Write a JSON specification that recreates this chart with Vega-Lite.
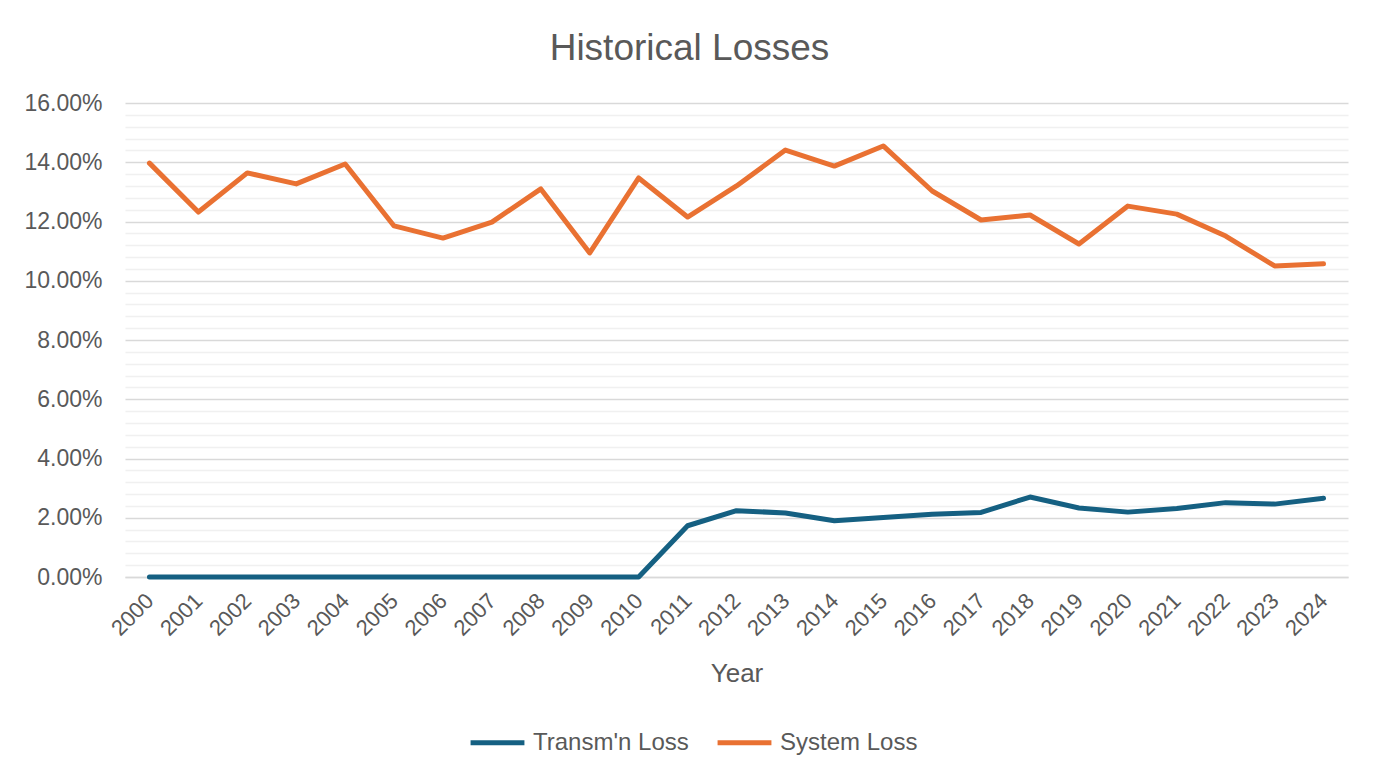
{
  "$schema": "https://vega.github.io/schema/vega-lite/v6.json",
  "width": 1223,
  "height": 474,
  "autosize": {"type": "none"},
  "padding": {"left": 125, "top": 103, "right": 30, "bottom": 199},
  "background": "white",
  "title": {
    "text": "Historical Losses",
    "fontSize": 37,
    "font": "Liberation Sans",
    "fontWeight": "normal",
    "color": "#595959",
    "anchor": "middle",
    "dx": -47,
    "offset": 24
  },
  "config": {
    "view": {"stroke": null},
    "font": "Liberation Sans"
  },
  "data": {
    "values": [
      {"Year": "2000", "Series": "Transm'n Loss", "Loss": 0.0},
      {"Year": "2001", "Series": "Transm'n Loss", "Loss": 0.0},
      {"Year": "2002", "Series": "Transm'n Loss", "Loss": 0.0},
      {"Year": "2003", "Series": "Transm'n Loss", "Loss": 0.0},
      {"Year": "2004", "Series": "Transm'n Loss", "Loss": 0.0},
      {"Year": "2005", "Series": "Transm'n Loss", "Loss": 0.0},
      {"Year": "2006", "Series": "Transm'n Loss", "Loss": 0.0},
      {"Year": "2007", "Series": "Transm'n Loss", "Loss": 0.0},
      {"Year": "2008", "Series": "Transm'n Loss", "Loss": 0.0},
      {"Year": "2009", "Series": "Transm'n Loss", "Loss": 0.0},
      {"Year": "2010", "Series": "Transm'n Loss", "Loss": 0.0},
      {"Year": "2011", "Series": "Transm'n Loss", "Loss": 0.0173},
      {"Year": "2012", "Series": "Transm'n Loss", "Loss": 0.0224},
      {"Year": "2013", "Series": "Transm'n Loss", "Loss": 0.0216},
      {"Year": "2014", "Series": "Transm'n Loss", "Loss": 0.0190},
      {"Year": "2015", "Series": "Transm'n Loss", "Loss": 0.0201},
      {"Year": "2016", "Series": "Transm'n Loss", "Loss": 0.0212},
      {"Year": "2017", "Series": "Transm'n Loss", "Loss": 0.0218},
      {"Year": "2018", "Series": "Transm'n Loss", "Loss": 0.0270},
      {"Year": "2019", "Series": "Transm'n Loss", "Loss": 0.0233},
      {"Year": "2020", "Series": "Transm'n Loss", "Loss": 0.0219},
      {"Year": "2021", "Series": "Transm'n Loss", "Loss": 0.0231},
      {"Year": "2022", "Series": "Transm'n Loss", "Loss": 0.0251},
      {"Year": "2023", "Series": "Transm'n Loss", "Loss": 0.0246},
      {"Year": "2024", "Series": "Transm'n Loss", "Loss": 0.0266},
      {"Year": "2000", "Series": "System Loss", "Loss": 0.1397},
      {"Year": "2001", "Series": "System Loss", "Loss": 0.1232},
      {"Year": "2002", "Series": "System Loss", "Loss": 0.1364},
      {"Year": "2003", "Series": "System Loss", "Loss": 0.1327},
      {"Year": "2004", "Series": "System Loss", "Loss": 0.1394},
      {"Year": "2005", "Series": "System Loss", "Loss": 0.1185},
      {"Year": "2006", "Series": "System Loss", "Loss": 0.1144},
      {"Year": "2007", "Series": "System Loss", "Loss": 0.1198},
      {"Year": "2008", "Series": "System Loss", "Loss": 0.1310},
      {"Year": "2009", "Series": "System Loss", "Loss": 0.1094},
      {"Year": "2010", "Series": "System Loss", "Loss": 0.1347},
      {"Year": "2011", "Series": "System Loss", "Loss": 0.1215},
      {"Year": "2012", "Series": "System Loss", "Loss": 0.1320},
      {"Year": "2013", "Series": "System Loss", "Loss": 0.1441},
      {"Year": "2014", "Series": "System Loss", "Loss": 0.1387},
      {"Year": "2015", "Series": "System Loss", "Loss": 0.1455},
      {"Year": "2016", "Series": "System Loss", "Loss": 0.1303},
      {"Year": "2017", "Series": "System Loss", "Loss": 0.1205},
      {"Year": "2018", "Series": "System Loss", "Loss": 0.1222},
      {"Year": "2019", "Series": "System Loss", "Loss": 0.1124},
      {"Year": "2020", "Series": "System Loss", "Loss": 0.1252},
      {"Year": "2021", "Series": "System Loss", "Loss": 0.1225},
      {"Year": "2022", "Series": "System Loss", "Loss": 0.1151},
      {"Year": "2023", "Series": "System Loss", "Loss": 0.1050},
      {"Year": "2024", "Series": "System Loss", "Loss": 0.1057}
    ]
  },
  "mark": {"type": "line", "strokeWidth": 5, "strokeCap": "round", "strokeJoin": "round"},
  "encoding": {
    "x": {
      "field": "Year",
      "type": "ordinal",
      "scale": {"type": "point", "padding": 0.5},
      "axis": {
        "title": "Year",
        "titleFont": "Liberation Sans",
        "titleFontSize": 26,
        "titleFontWeight": "normal",
        "titleColor": "#595959",
        "titlePadding": 21,
        "labelAngle": -45,
        "labelAlign": "right",
        "labelBaseline": "middle",
        "labelFontSize": 22,
        "labelColor": "#595959",
        "labelPadding": 20,
        "labelOverlap": false,
        "ticks": false,
        "domain": true,
        "domainColor": "#D9D9D9",
        "domainWidth": 1.5,
        "grid": false
      }
    },
    "y": {
      "field": "Loss",
      "type": "quantitative",
      "scale": {"domain": [0, 0.16], "nice": false, "zero": true},
      "axis": {
        "title": null,
        "values": [0, 0.004, 0.008, 0.012, 0.016, 0.02, 0.024, 0.028, 0.032, 0.036, 0.04, 0.044, 0.048, 0.052, 0.056, 0.06, 0.064, 0.068, 0.072, 0.076, 0.08, 0.084, 0.088, 0.092, 0.096, 0.1, 0.104, 0.108, 0.112, 0.116, 0.12, 0.124, 0.128, 0.132, 0.136, 0.14, 0.144, 0.148, 0.152, 0.156, 0.16],
        "labelExpr": "round(datum.value*1000) % 20 === 0 ? format(datum.value, '.2%') : ''",
        "labelOverlap": false,
        "labelFontSize": 23,
        "labelColor": "#595959",
        "labelPadding": 23,
        "ticks": false,
        "domain": false,
        "grid": true,
        "gridWidth": 1.5,
        "gridColor": {"condition": {"test": "round(datum.value*1000) % 20 === 0", "value": "#D9D9D9"}, "value": "#F0F0F0"}
      }
    },
    "color": {
      "field": "Series",
      "type": "nominal",
      "sort": ["Transm'n Loss", "System Loss"],
      "scale": {"domain": ["Transm'n Loss", "System Loss"], "range": ["#156082", "#E97132"]},
      "legend": {
        "title": null,
        "orient": "none",
        "direction": "horizontal",
        "legendX": 343,
        "legendY": 610,
        "symbolType": "stroke",
        "symbolSize": 2900,
        "symbolStrokeWidth": 5,
        "labelFontSize": 24,
        "labelColor": "#595959",
        "labelOffset": 6,
        "columnPadding": 18
      }
    }
  }
}
